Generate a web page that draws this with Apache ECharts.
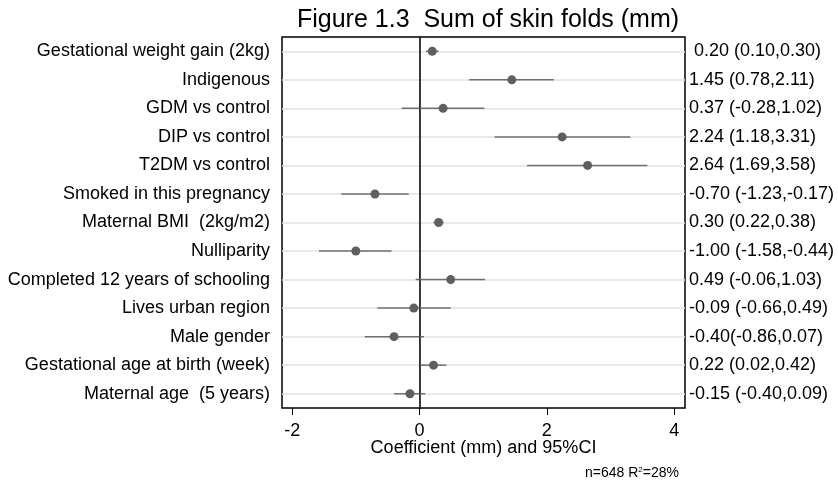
<!DOCTYPE html>
<html>
<head>
<meta charset="utf-8">
<script src="https://cdn.jsdelivr.net/npm/echarts@6/dist/echarts.min.js"></script>
<style>
    html, body { margin: 0; padding: 0; background: #fff; }
    #chart { width: 838px; height: 480px; }
</style>
</head>
<body>
<div id="chart"></div>
<script>
// 变量名称
const labels = [
    'Gestational weight gain (2kg)',
    'Indigenous',
    'GDM vs control',
    'DIP vs control',
    'T2DM vs control',
    'Smoked in this pregnancy',
    'Maternal BMI  (2kg/m2)',
    'Nulliparity',
    'Completed 12 years of schooling',
    'Lives urban region',
    'Male gender',
    'Gestational age at birth (week)',
    'Maternal age  (5 years)'
];
// 系数及95%置信区间
const coef  = [0.20, 1.45, 0.37, 2.24, 2.64, -0.70, 0.30, -1.00, 0.49, -0.09, -0.40, 0.22, -0.15];
const lower = [0.10, 0.78, -0.28, 1.18, 1.69, -1.23, 0.22, -1.58, -0.06, -0.66, -0.86, 0.02, -0.40];
const upper = [0.30, 2.11, 1.02, 3.31, 3.58, -0.17, 0.38, -0.44, 1.03, 0.49, 0.07, 0.42, 0.09];
// 右侧文字
const ciText = [
    ' 0.20 (0.10,0.30)',
    '1.45 (0.78,2.11)',
    '0.37 (-0.28,1.02)',
    '2.24 (1.18,3.31)',
    '2.64 (1.69,3.58)',
    '-0.70 (-1.23,-0.17)',
    '0.30 (0.22,0.38)',
    '-1.00 (-1.58,-0.44)',
    '0.49 (-0.06,1.03)',
    '-0.09 (-0.66,0.49)',
    '-0.40(-0.86,0.07)',
    '0.22 (0.02,0.42)',
    '-0.15 (-0.40,0.09)'
];
const xTicks = [-2, 0, 2, 4];

const font = 'Liberation Sans, Arial, sans-serif';
const chart = echarts.init(document.querySelector('#chart'));
chart.setOption({
    animation: false,
    title: [
        {
            text: 'Figure 1.3  Sum of skin folds (mm)',
            left: 483,
            top: 3,
            textAlign: 'center',
            textStyle: { fontSize: 25, fontWeight: 'normal', color: '#000', fontFamily: font }
        },
        {
            text: 'n=648 R{sup|2}=28%',
            right: 154,
            top: 461,
            textStyle: {
                fontSize: 14, fontWeight: 'normal', color: '#000', fontFamily: font,
                rich: {
                    sup: { fontSize: 8, verticalAlign: 'top', padding: [0, 0, 7, 0], color: '#000', fontFamily: font }
                }
            }
        }
    ],
    grid: {
        left: 282,
        right: 153,
        top: 37,
        bottom: 72,
        show: true,
        borderColor: '#000',
        borderWidth: 1.5
    },
    xAxis: {
        type: 'value',
        min: -2.16,
        max: 4.17,
        name: 'Coefficient (mm) and 95%CI',
        nameLocation: 'middle',
        nameGap: 31,
        nameMoveOverlap: false,
        nameTextStyle: { fontSize: 18, color: '#000', fontFamily: font },
        axisLine: { lineStyle: { color: '#000', width: 2 } },
        axisTick: { show: true, length: 7, customValues: xTicks, lineStyle: { color: '#000' } },
        axisLabel: { customValues: xTicks, fontSize: 18, color: '#000', margin: 14, fontFamily: font },
        splitLine: { show: false }
    },
    yAxis: [
        {
            type: 'category',
            data: labels,
            inverse: true,
            axisLine: { lineStyle: { color: '#000', width: 1.5 } },
            axisTick: { alignWithLabel: true, length: 7, lineStyle: { color: '#000' } },
            axisLabel: { interval: 0, fontSize: 18, color: '#000', margin: 12, fontFamily: font },
            splitLine: { show: true, alignWithLabel: true, interval: 0, lineStyle: { color: '#e2e2e2', width: 1.5 } }
        },
        {
            type: 'category',
            data: ciText,
            inverse: true,
            position: 'right',
            axisLine: { show: false },
            axisTick: { show: false },
            axisLabel: { interval: 0, fontSize: 18, color: '#000', margin: 4, fontFamily: font },
            splitLine: { show: false }
        }
    ],
    series: [
        {
            // 置信区间
            type: 'custom',
            renderItem: (params, api) => {
                let p1 = api.coord([api.value(0), api.value(2)]);
                let p2 = api.coord([api.value(1), api.value(2)]);
                return {
                    type: 'line',
                    shape: { x1: p1[0], y1: p1[1], x2: p2[0], y2: p2[1] },
                    style: { stroke: '#707070', lineWidth: 1.5 }
                };
            },
            data: labels.map((l, i) => [lower[i], upper[i], i]),
            z: 3
        },
        {
            type: 'scatter',
            data: coef.map((v, i) => [v, i]),
            symbolSize: 9,
            itemStyle: { color: '#5f5f5f', opacity: 1 },
            z: 4,
            markLine: {
                silent: true,
                symbol: 'none',
                label: { show: false },
                lineStyle: { color: '#333', width: 1, type: 'solid' },
                data: [{ xAxis: 0 }]
            }
        }
    ]
});
</script>
</body>
</html>
